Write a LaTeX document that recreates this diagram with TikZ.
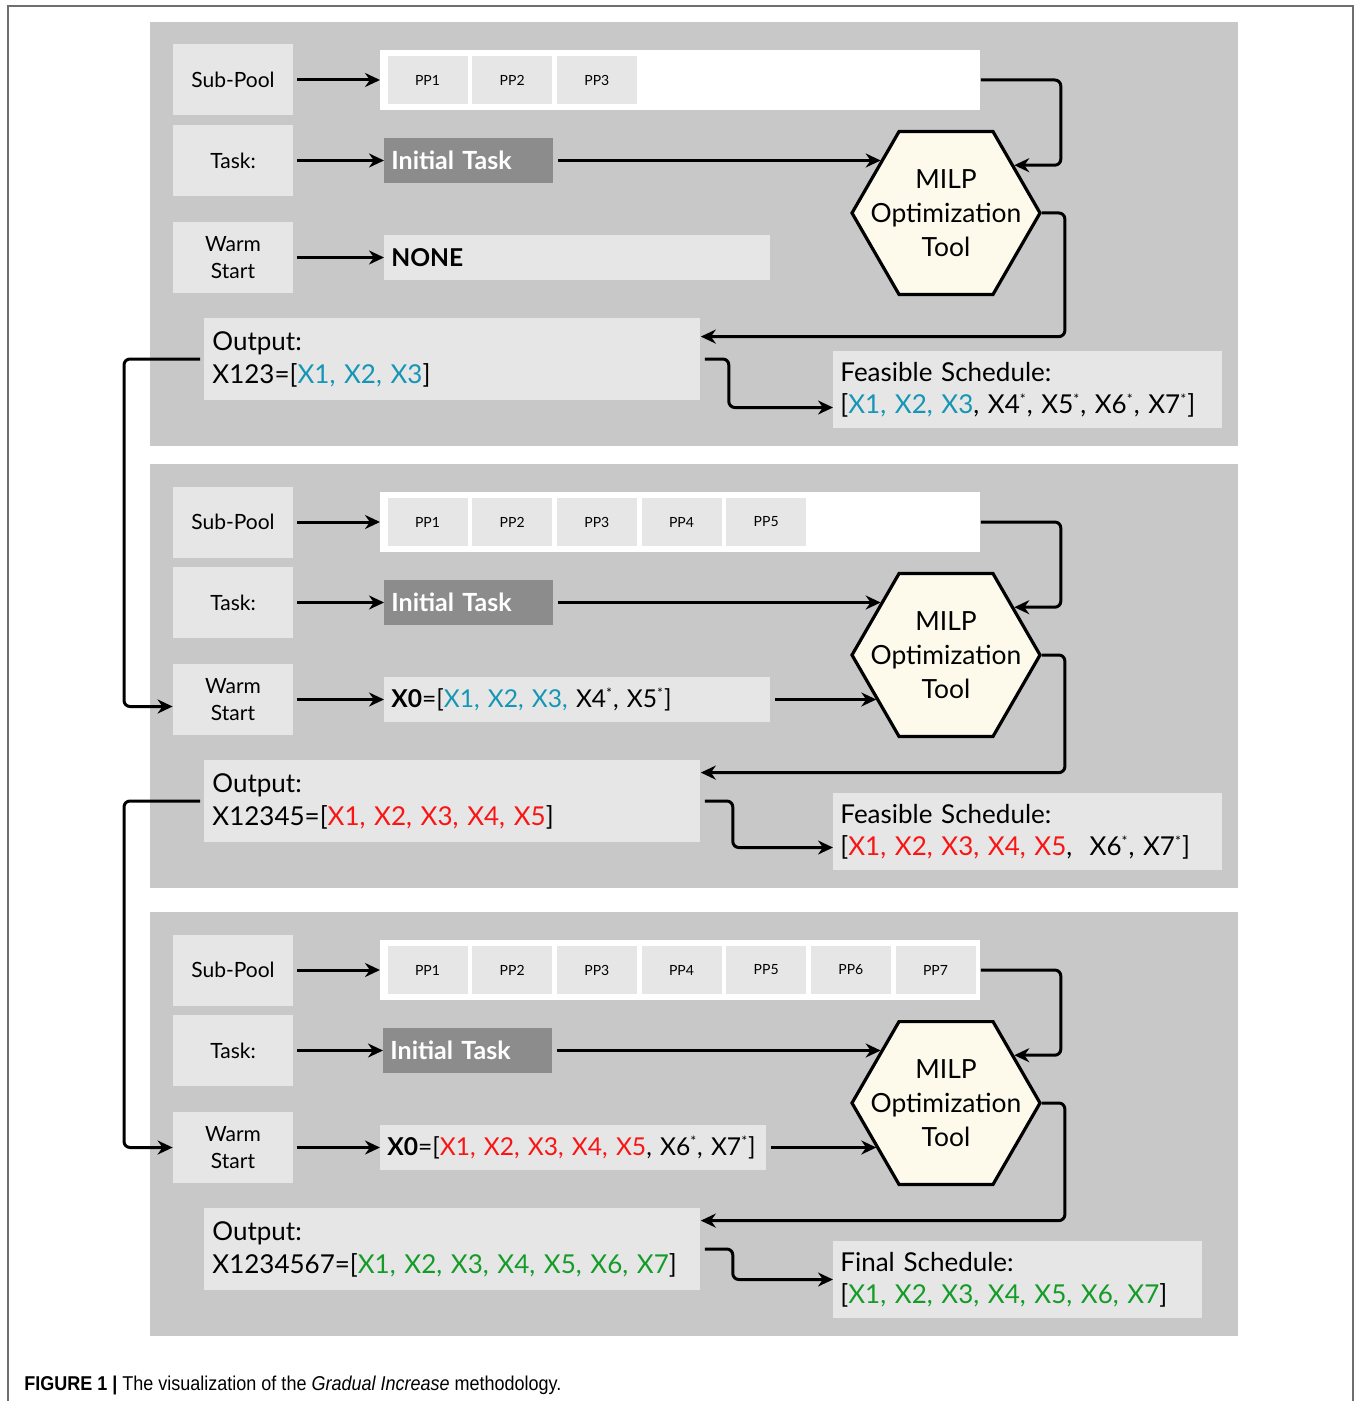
\documentclass[tikz,border=0pt]{standalone}
\usepackage{fontspec}
\setmainfont{Lato}
\newfontfamily\capfont[FakeStretch=0.9]{Liberation Sans}
\usetikzlibrary{arrows.meta,shapes.geometric}
\definecolor{panelgray}{RGB}{200,200,200}
\definecolor{boxgray}{RGB}{230,230,230}
\definecolor{taskgray}{RGB}{140,140,140}
\definecolor{hexfill}{RGB}{253,250,235}
\definecolor{framegray}{RGB}{110,110,110}
\definecolor{xteal}{RGB}{20,150,180}
\definecolor{xred}{RGB}{250,20,20}
\definecolor{xgreen}{RGB}{20,155,40}
\newcommand{\st}{\textsuperscript{\fontsize{7}{7}\selectfont *}}

\begin{document}
\begin{tikzpicture}[
    x=0.5pt, y=-0.5pt,
    panel/.style={fill=panelgray, minimum width=544pt, minimum height=212pt, inner sep=0pt},
    lbl/.style={fill=boxgray, minimum width=60pt, minimum height=35.5pt, inner sep=0pt,
      align=center, font=\fontsize{10.5}{13.5}\selectfont},
    bar/.style={fill=white, minimum width=300pt, minimum height=30pt, inner sep=0pt, anchor=west},
    ppcell/.style={fill=boxgray, minimum width=40pt, minimum height=24pt, inner sep=0pt,
      font=\fontsize{7}{8}\selectfont},
    taskbox/.style={fill=taskgray, text=white, anchor=west, text width=77.5pt, inner xsep=3.5pt,
      inner ysep=0pt, minimum height=22.5pt, align=left, font=\bfseries\fontsize{12.5}{15}\selectfont},
    valbox/.style={fill=boxgray, anchor=west, text width=186pt, inner xsep=3.5pt, inner ysep=0pt,
      minimum height=22.5pt, align=left, font=\fontsize{12.3}{15}\selectfont},
    hexnode/.style={regular polygon, regular polygon sides=6, minimum size=94pt, inner sep=0pt,
      draw=black, line width=1.6pt, fill=hexfill},
    hextext/.style={align=center, font=\fontsize{13.2}{17}\selectfont},
    outbox/.style={fill=boxgray, anchor=west, text width=240pt, inner xsep=4pt, minimum height=41pt,
      align=left, font=\fontsize{13}{16.5}\selectfont},
    schedbox/.style={fill=boxgray, anchor=west, text width=187.5pt, inner xsep=3.5pt, minimum height=38.5pt,
      align=left, font=\fontsize{13}{16}\selectfont},
    flow/.style={line width=1.5pt, -{Stealth[length=7.5pt,width=7pt]}, rounded corners=3pt},
    gap/.style={shorten <=2pt},
  ]
  \useasboundingbox (0,0) rectangle (1356,1401);
  \draw[framegray, line width=0.8pt] (8,1401) -- (8,6) -- (1353,6) -- (1353,1401);

  % first round: PP1-PP3
  \begin{scope}
    \node[panel] (apanel) at (694,234) {};
    \node[lbl] (apoollbl) at (233,80) {Sub-Pool};
    \node[lbl] (atasklbl) at (233,160.5) {Task:};
    \node[lbl] (awarmlbl) at (233,257.5) {Warm\\Start};
    \node[bar] (apool) at (380,80) {};
    \foreach \i in {1,...,3}
      \node[ppcell] (app\i) at ({427.5+84.67*(\i-1)},80) {PP\i};
    \node[taskbox] (atask) at (384,160.5) {Initial Task};
    \node[valbox] (aval) at (384,257.5) {\textbf{NONE}};
    \node[hexnode] (ahex) at (946,213) {};
    \node[hextext] (ahextxt) at (ahex) {MILP\\Optimization\\Tool};
    \node[outbox] (aout) at (204,359) {Output:\\X123=[\textcolor{xteal}{X1, X2, X3}]};
    \node[schedbox] (asched) at (833,389.5)
      {Feasible Schedule:\\{}[\textcolor{xteal}{X1, X2, X3}, X4\st, X5\st, X6\st, X7\st]};
  \end{scope}

  % second round: PP1-PP5
  \begin{scope}[shift={(0,442)}]
    \node[panel] (bpanel) at (694,234) {};
    \node[lbl] (bpoollbl) at (233,80) {Sub-Pool};
    \node[lbl] (btasklbl) at (233,160.5) {Task:};
    \node[lbl] (bwarmlbl) at (233,257.5) {Warm\\Start};
    \node[bar] (bpool) at (380,80) {};
    \foreach \i in {1,...,5}
      \node[ppcell] (bpp\i) at ({427.5+84.67*(\i-1)},80) {PP\i};
    \node[taskbox] (btask) at (384,160.5) {Initial Task};
    \node[valbox] (bval) at (384,257.5)
      {\textbf{X0}=[\textcolor{xteal}{X1, X2, X3,} X4\st, X5\st]};
    \node[hexnode] (bhex) at (946,213) {};
    \node[hextext] (bhextxt) at (bhex) {MILP\\Optimization\\Tool};
    \node[outbox] (bout) at (204,359) {Output:\\X12345=[\textcolor{xred}{X1, X2, X3, X4, X5}]};
    \node[schedbox] (bsched) at (833,389.5)
      {Feasible Schedule:\\{}[\textcolor{xred}{X1,\ X2,\ X3, X4,\ X5}, \ X6\st,\ X7\st]};
  \end{scope}

  % third round: PP1-PP7
  \begin{scope}[shift={(0,890)}]
    \node[panel] (cpanel) at (694,234) {};
    \node[lbl] (cpoollbl) at (233,80) {Sub-Pool};
    \node[lbl] (ctasklbl) at (233,160.5) {Task:};
    \node[lbl] (cwarmlbl) at (233,257.5) {Warm\\Start};
    \node[bar] (cpool) at (380,80) {};
    \foreach \i in {1,...,7}
      \node[ppcell] (cpp\i) at ({427.5+84.67*(\i-1)},80) {PP\i};
    \node[taskbox] (ctask) at (383,160.5) {Initial Task};
    \node[valbox] (cval) at (380,257.5)
      {\mbox{\textbf{X0}=[\textcolor{xred}{X1, X2, X3, X4, X5}, X6\st, X7\st]}};
    \node[hexnode] (chex) at (946,213) {};
    \node[hextext] (chextxt) at (chex) {MILP\\Optimization\\Tool};
    \node[outbox] (cout) at (204,359)
      {Output:\\X1234567=[\textcolor{xgreen}{X1, X2, X3, X4, X5, X6, X7}]};
    \node[schedbox, text width=177.5pt] (csched) at (833,389.5)
      {Final Schedule:\\{}[\textcolor{xgreen}{X1,\ X2,\ X3, X4,\ X5,\ X6,\ X7}]};
  \end{scope}

  % connectors
  \foreach \p in {a,b,c} {
    \draw[flow,gap] (\p poollbl) -- (\p pool);
    \draw[flow,gap] (\p tasklbl) -- (\p task);
    \draw[flow,gap] (\p warmlbl) -- (\p val);
    \draw[flow,gap] (\p task.east) -- (\p task.east -| \p hex.141);
    \draw[flow] (\p pool.east) -- ++(80,0) |- (\p hex.35);
  }
  \draw[flow,gap] (bval.east) -- (bval.east -| bhex.213);
  \draw[flow,gap] (cval.east) -- (cval.east -| chex.213);

  \draw[flow] (ahex.east) -- ++(23,0) |- ([yshift=-9.5pt]aout.north east);
  \draw[flow] (bhex.east) -- ++(23,0) |- ([yshift=-6.5pt]bout.north east);
  \draw[flow] (chex.east) -- ++(23,0) |- ([yshift=-6.5pt]cout.north east);

  \draw[flow,gap] (aout.east) -- ++(28,0) |- ([yshift=-9pt]asched.west);
  \draw[flow,gap] (bout.east) -- ++(32,0) |- ([yshift=-8pt]bsched.west);
  \draw[flow,gap] (cout.east) -- ++(32,0) |- (csched.west);

  \draw[flow,gap] (aout.west) -- ++(-80,0) |- ([yshift=-3.5pt]bwarmlbl.west);
  \draw[flow,gap] (bout.west) -- ++(-80,0) |- (cwarmlbl.west);

  \node[anchor=base west, inner sep=0pt, font=\capfont\fontsize{10}{12}\selectfont] (caption) at (24,1390)
    {\textbf{FIGURE 1 |} The visualization of the \textit{Gradual Increase} methodology.};
\end{tikzpicture}
\end{document}
